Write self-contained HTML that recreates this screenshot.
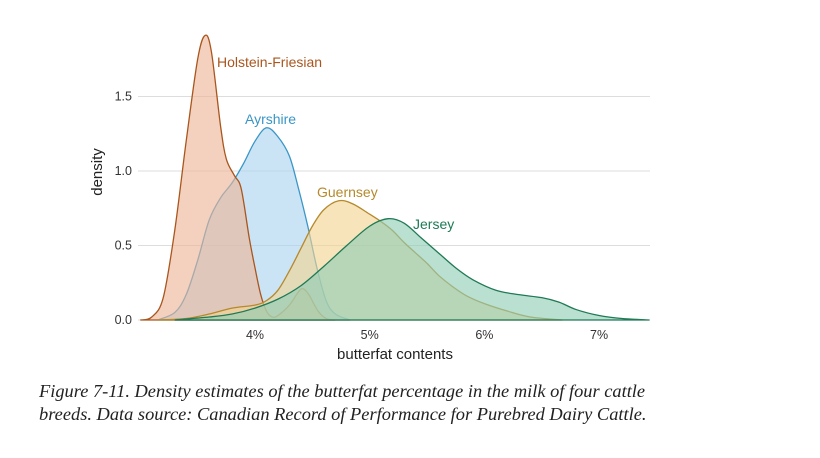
<!DOCTYPE html>
<html><head><meta charset="utf-8"><style>
body{margin:0;background:#fff;width:820px;height:458px;overflow:hidden}
svg text{font-family:"Liberation Sans",sans-serif}
.cap{position:absolute;left:39px;font-family:"Liberation Serif",serif;font-style:italic;font-size:18.4px;color:#222;white-space:nowrap}
</style></head><body>
<svg width="820" height="458" style="position:absolute;left:0;top:0">
<g id="grid"></g><g id="areas"></g><g id="labels"></g>
<text x="102" y="172" transform="rotate(-90 102 172)" text-anchor="middle" font-size="15" fill="#222">density</text>
<text x="395" y="359" text-anchor="middle" font-size="15" fill="#222">butterfat contents</text>
</svg>
<div class="cap" style="top:381px">Figure 7-11. Density estimates of the butterfat percentage in the milk of four cattle</div>
<div class="cap" style="top:404px">breeds. Data source: Canadian Record of Performance for Purebred Dairy Cattle.</div>
<script>
const yTicks=[0,0.5,1.0,1.5];
const yTickLabels=["0.0","0.5","1.0","1.5"];
const xTicks=[4,5,6,7];
const xTickLabels=["4%","5%","6%","7%"];
const breeds=["Holstein-Friesian","Ayrshire","Guernsey","Jersey"];
const holsteinX=[3.0,3.1,3.2,3.3,3.4,3.5,3.565,3.62,3.7,3.75,3.82,3.88,3.95,4.0,4.05,4.1,4.15,4.2,4.3,4.38,4.42,4.47,4.55,4.62,4.7];
const holsteinY=[0,0.02,0.15,0.6,1.2,1.75,1.91,1.8,1.3,1.08,0.97,0.88,0.55,0.35,0.17,0.06,0.02,0.03,0.1,0.19,0.21,0.17,0.06,0.01,0];
const ayrshireX=[3.15,3.3,3.4,3.5,3.6,3.7,3.8,3.9,4.0,4.1,4.2,4.3,4.38,4.46,4.54,4.62,4.7,4.83];
const ayrshireY=[0,0.05,0.17,0.4,0.67,0.82,0.92,1.05,1.2,1.29,1.23,1.1,0.88,0.63,0.35,0.13,0.04,0];
const guernseyX=[3.15,3.4,3.6,3.8,4.0,4.1,4.2,4.3,4.4,4.5,4.6,4.73,4.85,5.0,5.1,5.2,5.3,5.4,5.5,5.6,5.73,5.85,6.0,6.2,6.4,6.68];
const guernseyY=[0,0.01,0.04,0.08,0.1,0.13,0.2,0.33,0.48,0.63,0.74,0.8,0.78,0.71,0.66,0.6,0.52,0.45,0.38,0.3,0.22,0.16,0.11,0.06,0.02,0];
const jerseyX=[3.3,3.6,3.8,4.0,4.2,4.4,4.6,4.8,5.0,5.16,5.3,5.45,5.6,5.75,5.9,6.1,6.3,6.5,6.65,6.8,7.0,7.2,7.44];
const jerseyY=[0,0.02,0.04,0.08,0.14,0.23,0.36,0.5,0.63,0.68,0.65,0.55,0.45,0.35,0.27,0.2,0.17,0.15,0.12,0.07,0.03,0.01,0];
const xs=v=>255+(v-4)*114.7, ys=v=>320-v*149;
const NS="http://www.w3.org/2000/svg";
function mk(t,a,p){const e=document.createElementNS(NS,t);for(const k in a)e.setAttribute(k,a[k]);p.appendChild(e);return e;}
const grid=document.getElementById('grid');
yTicks.forEach((t,i)=>{
 const l=mk('line',{x1:138,x2:650,y1:ys(t),y2:ys(t),stroke:'#ddd','stroke-width':1},grid);
 
 
 const tx=mk('text',{x:132,y:ys(t)+4,'text-anchor':'end','font-size':12.5,fill:'#333'},grid);
 tx.textContent=yTickLabels[i];
 
 
});
xTicks.forEach((t,i)=>{
 const tx=mk('text',{x:xs(t),y:339,'text-anchor':'middle','font-size':12.5,fill:'#333'},grid);
 tx.textContent=xTickLabels[i];
 
 
});
function path(X,Y){
 const P=X.map((x,i)=>[xs(x),ys(Y[i])]);let d=`M${P[0][0]},${P[0][1]}`;
 for(let i=0;i<P.length-1;i++){const p0=P[Math.max(0,i-1)],p1=P[i],p2=P[i+1],p3=P[Math.min(P.length-1,i+2)];
  d+=` C${p1[0]+(p2[0]-p0[0])/6},${p1[1]+(p2[1]-p0[1])/6} ${p2[0]-(p3[0]-p1[0])/6},${p2[1]-(p3[1]-p1[1])/6} ${p2[0]},${p2[1]}`;}
 return d;
}
const series=[[ayrshireX,ayrshireY,'#a9d3f0','#3a96c6',1],[holsteinX,holsteinY,'#eeb596','#a9561e',0],[guernseyX,guernseyY,'#f2d391','#b5892c',2],[jerseyX,jerseyY,'#8fcdb5','#1f7a55',3]];
const areas=document.getElementById('areas');
series.forEach((s)=>{
 const e=mk('path',{d:path(s[0],s[1])+' Z',fill:s[2],'fill-opacity':0.62,stroke:s[3],'stroke-width':1.3},areas);
 
 
});
const labs=[[217,67,'#a9561e'],[245,124,'#3a96c6'],[317,197,'#b5892c'],[413,229,'#1f7a55']];
const lg=document.getElementById('labels');
labs.forEach((l,i)=>{
 const t=mk('text',{x:l[0],y:l[1],'font-size':14,fill:l[2]},lg);
 t.textContent=breeds[i];
 
 
});
</script>
</body></html>
